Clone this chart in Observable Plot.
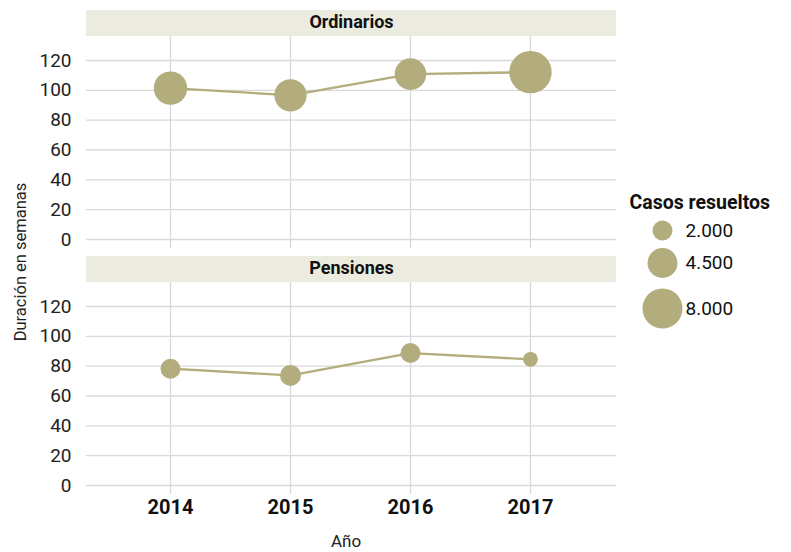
<!DOCTYPE html>
<html>
<head>
<meta charset="utf-8">
<script src="https://cdn.jsdelivr.net/npm/d3@7"></script>
<script src="https://cdn.jsdelivr.net/npm/@observablehq/plot@0.6"></script>
<style>
  html, body { margin: 0; padding: 0; background: #fff; }
  #wrap { position: relative; width: 791px; height: 552px; font-family: Roboto, sans-serif; }
  #legend { position: absolute; left: 620px; top: 180px; }
</style>
</head>
<body>
<div id="wrap"><div id="main"></div><div id="legend"></div></div>
<script>
// ---- data ----
const years = [2014, 2015, 2016, 2017];
const panels = ["Ordinarios", "Pensiones"];
const ordinariosDuration = [101.5, 96.7, 110.9, 112.2];
const ordinariosCases = [5600, 5200, 5000, 9000];
const pensionesDuration = [78.3, 73.8, 88.8, 84.6];
const pensionesCases = [2000, 2200, 2000, 1100];
const yTicks = [0, 20, 40, 60, 80, 100, 120];
const legendValues = [2000, 4500, 8000];
const legendTitle = "Casos resueltos";
const xLabel = "Año";
const yLabel = "Duración en semanas";

// ---- table ----
const rows = [
  ...years.map((yr, i) => ({panel: panels[0], year: yr, dur: ordinariosDuration[i], cases: ordinariosCases[i]})),
  ...years.map((yr, i) => ({panel: panels[1], year: yr, dur: pensionesDuration[i], cases: pensionesCases[i]}))
];
const stripRows = panels.map(p => ({panel: p}));

const fill = "#B3AD7D";
const grid = "#D9D9D9";
const esLocale = d3.formatLocale({decimal: ",", thousands: ".", grouping: [3], currency: ["", "€"]});
const fmt = esLocale.format(",d");
const rScale = {type: "sqrt", domain: [0, 8000], range: [0, 20]};

// strip background drawn above each facet frame
const stripBg = (index, scales, values, dimensions) => {
  const x0 = dimensions.marginLeft;
  const x1 = dimensions.width - dimensions.marginRight;
  const y0 = dimensions.marginTop;
  const g = d3.create("svg:g");
  g.append("rect").attr("x", x0).attr("y", y0 - 26).attr("width", x1 - x0).attr("height", 26).attr("fill", "#ECEBDF");
  return g.node();
};

const chart = Plot.plot({
  width: 791,
  height: 552,
  marginLeft: 86,
  marginRight: 175,
  marginTop: 36,
  marginBottom: 58,
  style: {fontFamily: "Roboto, sans-serif", color: "#1a1a1a", background: "transparent", overflow: "visible"},
  x: {domain: [2013.3, 2017.717]},
  y: {domain: [-6.03, 136.1]},
  fy: {domain: panels, paddingInner: 34 / 246, paddingOuter: 0, axis: null, label: null},
  r: rScale,
  marks: [
    stripBg,
    Plot.text(stripRows, {fy: "panel", text: "panel", frameAnchor: "top", dy: -14, lineAnchor: "middle", fontWeight: "bold", fontSize: 18, fill: "#111"}),
    Plot.gridX({ticks: years, stroke: grid, strokeOpacity: 1, strokeWidth: 1.3}),
    Plot.gridY({ticks: yTicks, stroke: grid, strokeOpacity: 1, strokeWidth: 1.3}),
    Plot.axisY({ticks: yTicks, tickSize: 0, tickPadding: 15, fontSize: 19, label: null, fill: "#222"}),
    Plot.axisX({ticks: years, tickFormat: "d", tickSize: 0, tickPadding: 5, fontSize: 20, fontWeight: "bold", label: null, fill: "#111"}),
    Plot.line(rows, {x: "year", y: "dur", fy: "panel", stroke: fill, strokeWidth: 2.3}),
    Plot.dot(rows, {x: "year", y: "dur", r: "cases", fy: "panel", fill: fill, stroke: "none"})
  ]
});

const svg = d3.select(chart);
svg.append("text")
  .attr("transform", "translate(22,262) rotate(-90)")
  .attr("text-anchor", "middle").attr("dominant-baseline", "middle")
  .attr("font-size", 16.5).attr("fill", "#222").text(yLabel);
svg.append("text")
  .attr("x", 346).attr("y", 543)
  .attr("text-anchor", "middle").attr("dominant-baseline", "middle")
  .attr("font-size", 17).attr("fill", "#222").text(xLabel);
document.getElementById("main").appendChild(chart);

const legend = Plot.plot({
  width: 171,
  height: 150,
  margin: 0,
  style: {fontFamily: "Roboto, sans-serif", color: "#1a1a1a", background: "transparent", overflow: "visible"},
  y: {domain: [2000, 8000], range: [50, 128], axis: null},
  r: rScale,
  marks: [
    Plot.text([legendTitle], {frameAnchor: "top-left", dx: 9, dy: 22, lineAnchor: "middle", textAnchor: "start", fontWeight: "bold", fontSize: 19.5, fill: "#111"}),
    Plot.dot(legendValues, {y: d => d, r: d => d, frameAnchor: "left", dx: 42, fill: fill, stroke: "none"}),
    Plot.text(legendValues, {y: d => d, text: d => fmt(d), frameAnchor: "left", dx: 65, textAnchor: "start", fontSize: 19, fill: "#111"})
  ]
});
document.getElementById("legend").appendChild(legend);
</script>
</body>
</html>
